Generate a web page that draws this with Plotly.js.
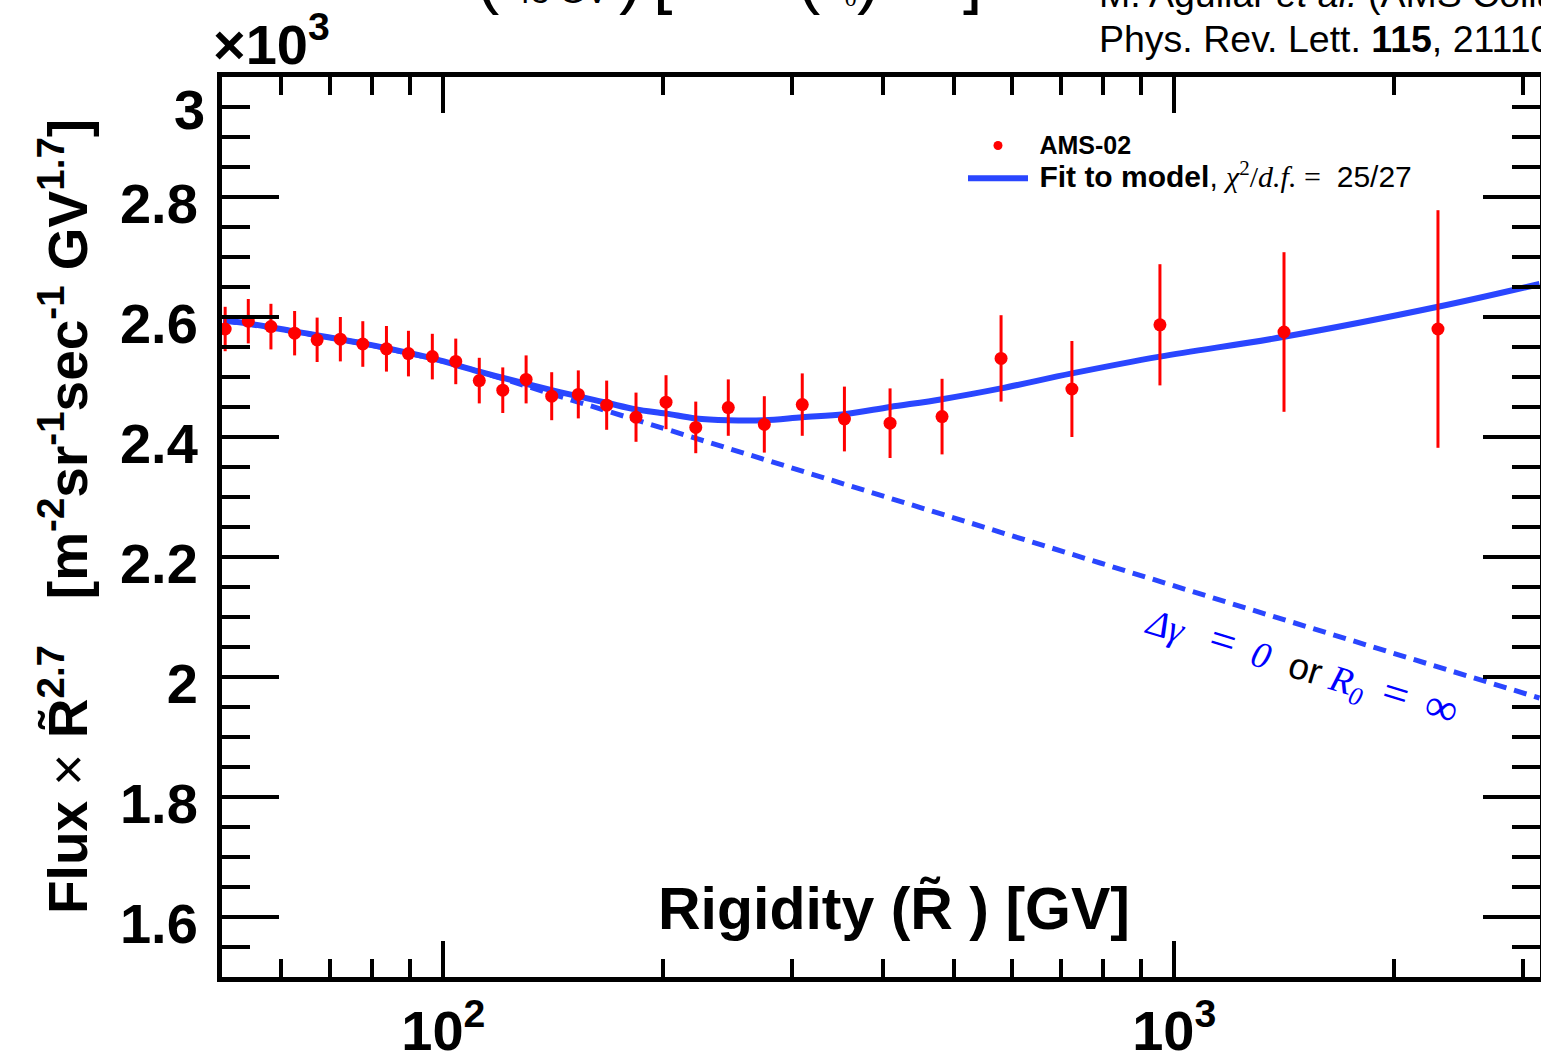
<!DOCTYPE html>
<html><head><meta charset="utf-8">
<script src="https://cdn.plot.ly/plotly-3.0.1.min.js"></script>
<style>html,body{margin:0;padding:0;background:#fff;} #chart{width:1541px;height:1057px;}</style>
</head><body><div id="chart"></div>
<script>
// AMS-02 helium: Flux x R^2.7 (x10^3) vs rigidity (GV)
const rigidity = [50.3, 54.1, 58.1, 62.6, 67.2, 72.3, 77.6, 83.6, 89.6, 96.6, 104, 112, 120.6, 129.8, 140.7, 153, 167.3, 183.5, 201.7, 221.5, 245.4, 274.9, 309.8, 353.8, 408.5, 481.2, 579.5, 724.4, 955.9, 1413, 2295];
const fluxR27 = [2.580, 2.593, 2.584, 2.573, 2.562, 2.563, 2.555, 2.547, 2.539, 2.534, 2.526, 2.494, 2.478, 2.496, 2.468, 2.471, 2.453, 2.433, 2.458, 2.416, 2.449, 2.421, 2.454, 2.430, 2.423, 2.434, 2.531, 2.480, 2.587, 2.575, 2.580];
const fluxErr = [0.037, 0.037, 0.038, 0.037, 0.037, 0.037, 0.038, 0.038, 0.038, 0.038, 0.038, 0.038, 0.038, 0.040, 0.040, 0.040, 0.041, 0.041, 0.045, 0.043, 0.047, 0.047, 0.052, 0.054, 0.058, 0.063, 0.072, 0.080, 0.101, 0.133, 0.198];

// Fit to model (solid)
const fitR = [50, 54.1, 62.5, 77.6, 96.6, 112, 140.7, 167.3, 183.5, 201.7, 221.5, 245.3, 274.6, 309.7, 353.5, 408.5, 481.2, 579.5, 724.4, 955.9, 1413, 2295, 3160];
const fitV = [2.594, 2.589, 2.576, 2.556, 2.531, 2.509, 2.478, 2.457, 2.446, 2.439, 2.431, 2.428, 2.428, 2.433, 2.438, 2.450, 2.463, 2.481, 2.506, 2.534, 2.567, 2.617, 2.655];

// Delta gamma = 0 (dashed)
const noBreakR = [50, 62.5, 77.6, 96.6, 112, 140.7, 167.3, 183.5, 221.5, 274.6, 352, 500, 792, 1200, 2000, 3160];
const noBreakV = [2.594, 2.576, 2.556, 2.531, 2.509, 2.472, 2.443, 2.428, 2.398, 2.363, 2.323, 2.266, 2.190, 2.122, 2.039, 1.965];

const xTickVals = [100, 1000];
const xTickText = ['10<sup>2</sup>', '10<sup>3</sup>'];
const xMinorVals = [60, 70, 80, 90, 200, 300, 400, 500, 600, 700, 800, 900, 2000, 3000];
const yTickVals = [1.6, 1.8, 2.0, 2.2, 2.4, 2.6, 2.8];
const yTickText = ['1.6', '1.8', '2', '2.2', '2.4', '2.6', '2.8'];

const SANS = 'Liberation Sans, Arial, Helvetica, sans-serif';
const SERIF = 'Liberation Serif, Times New Roman, serif';
const BLUE = '#2a46ff';
const RED = '#ff0000';

// plot area geometry (px)
const L = 222, T = 77, W = 1318, H = 900;
const px = x => (x - L) / W;
const py = y => (T + H - y) / H;

const traces = [
  {x: noBreakR, y: noBreakV, type: 'scatter', mode: 'lines', showlegend: false,
   line: {color: BLUE, width: 5, dash: '13px,8px'}, hoverinfo: 'skip'},
  {x: fitR, y: fitV, type: 'scatter', mode: 'lines', name:
   '&nbsp;<span style="font-size:30px"><b>Fit to model</b>, <span style="font-family:Liberation Serif"><i>χ</i><sup>2</sup>/<i>d.f.</i> = </span> 25/27</span>',
   line: {color: BLUE, width: 6, shape: 'spline'}, legendrank: 2},
  {x: rigidity, y: fluxR27, type: 'scatter', mode: 'markers', showlegend: false,
   marker: {color: RED, size: 13},
   error_y: {type: 'data', array: fluxErr, visible: true, color: RED, thickness: 3, width: 0}},
  {x: [null], y: [null], type: 'scatter', mode: 'markers', name: '&nbsp;<span style="font-size:25px"><b>AMS-02</b></span>',
   marker: {color: RED, size: 9}, legendrank: 1}
];

const axisCommon = {
  showline: true, linewidth: 5, linecolor: 'black', mirror: 'allticks',
  ticks: 'inside', tickwidth: 4, tickcolor: 'black', showgrid: false, zeroline: false,
  tickfont: {family: SANS, size: 56, color: 'black', weight: 'bold'}
};

const MATH = 'font-family:Liberation Serif;color:#0000ff';
const SP = '&nbsp;';

const layout = {
  width: 1541, height: 1057,
  margin: {l: L, r: 1541 - L - W, t: T, b: 1057 - T - H, pad: 0},
  paper_bgcolor: 'white', plot_bgcolor: 'white',
  showlegend: true,
  legend: {x: px(963), y: py(124), xanchor: 'left', yanchor: 'top', bgcolor: 'rgba(0,0,0,0)',
           font: {family: SANS, size: 23, color: 'black'}, itemwidth: 60, tracegroupgap: 0},
  xaxis: Object.assign({}, axisCommon, {
    type: 'log', range: [Math.log10(49.8), Math.log10(3165)],
    tickmode: 'array', tickvals: xTickVals, ticktext: xTickText, ticklen: 36,
    ticklabelstandoff: 1,
    minor: {tickmode: 'array', tickvals: xMinorVals, ticks: 'inside', ticklen: 18, tickwidth: 4, tickcolor: 'black', showgrid: false}
  }),
  yaxis: Object.assign({}, axisCommon, {
    range: [1.5, 3.0],
    tickmode: 'array', tickvals: yTickVals, ticktext: yTickText, ticklen: 57,
    ticklabelstandoff: 8, ticklabelshift: 6,
    minor: {tickmode: 'linear', tick0: 1.5, dtick: 0.05, ticks: 'inside', ticklen: 28, tickwidth: 4, tickcolor: 'black', showgrid: false}
  }),
  annotations: [
    {xref: 'paper', yref: 'paper', x: px(207), y: py(109), xanchor: 'right', yanchor: 'middle', showarrow: false,
     text: '<b>3</b>', font: {family: SANS, size: 56, color: 'black'}},
    {xref: 'paper', yref: 'paper', x: px(211), y: py(40), xanchor: 'left', yanchor: 'middle', showarrow: false,
     text: '<b>×10<sup>3</sup></b>', font: {family: SANS, size: 56, color: 'black'}},
    {xref: 'paper', yref: 'paper', x: px(894), y: py(909), xanchor: 'center', yanchor: 'middle', showarrow: false,
     text: '<b>Rigidity (R̃ ) [GV]</b>', font: {family: SANS, size: 59, color: 'black'}},
    {xref: 'paper', yref: 'paper', x: px(64), y: py(517), xanchor: 'center', yanchor: 'middle', showarrow: false, textangle: -90,
     text: '<b>Flux</b> × <b>R̃<sup>2.7</sup></b>&nbsp;&nbsp;&nbsp;<b>[m<sup>-2</sup>sr<sup>-1</sup>sec<sup>-1</sup> GV<sup>1.7</sup>]</b>',
     font: {family: SANS, size: 55, color: 'black'}},
    {xref: 'paper', yref: 'paper', x: px(1302), y: py(666), xanchor: 'center', yanchor: 'middle', showarrow: false, textangle: 17,
     text: '<span style="' + MATH + '"><i>Δγ</i>' + SP + SP + SP + '<span style="font-size:46px">=</span>' + SP + SP + '<i>0</i></span>' + SP + SP + 'or' + SP + '<span style="' + MATH + '"><i>R</i><sub><i>0</i></sub>' + SP + SP + '<span style="font-size:46px">=</span>' + SP + SP + '<span style="font-size:46px">∞</span></span>',
     font: {family: SANS, size: 37, color: 'black'}},
    {xref: 'paper', yref: 'paper', x: px(1097), y: py(39), xanchor: 'left', yanchor: 'middle', showarrow: false,
     text: 'Phys. Rev. Lett. <b>115</b>, 211101 (2015)', font: {family: SANS, size: 37.5, color: 'black'}},
    {xref: 'paper', yref: 'paper', x: px(1097), y: py(-6), xanchor: 'left', yanchor: 'middle', showarrow: false,
     text: 'M. Aguilar <i>et al.</i> (AMS Collaboration)', font: {family: SANS, size: 37.5, color: 'black'}},
    // cut-off model formula on top
    {xref: 'paper', yref: 'paper', x: px(487), y: py(-24), xanchor: 'center', yanchor: 'middle', showarrow: false,
     text: '(', font: {family: SANS, size: 70, color: 'black'}},
    {xref: 'paper', yref: 'paper', x: px(560), y: py(-9), xanchor: 'center', yanchor: 'middle', showarrow: false,
     text: '45 GV', font: {family: SANS, size: 34, color: 'black'}},
    {xref: 'paper', yref: 'paper', x: px(630), y: py(-24), xanchor: 'center', yanchor: 'middle', showarrow: false,
     text: ')', font: {family: SANS, size: 70, color: 'black'}},
    {xref: 'paper', yref: 'paper', x: px(662), y: py(-24), xanchor: 'center', yanchor: 'middle', showarrow: false,
     text: '[', font: {family: SANS, size: 70, color: 'black'}},
    {xref: 'paper', yref: 'paper', x: px(808), y: py(-24), xanchor: 'center', yanchor: 'middle', showarrow: false,
     text: '(', font: {family: SANS, size: 70, color: 'black'}},
    {xref: 'paper', yref: 'paper', x: px(840), y: py(-10), xanchor: 'center', yanchor: 'middle', showarrow: false,
     text: '<i>R</i><sub>0</sub>', font: {family: SERIF, size: 34, color: 'black'}},
    {xref: 'paper', yref: 'paper', x: px(868), y: py(-24), xanchor: 'center', yanchor: 'middle', showarrow: false,
     text: ')', font: {family: SANS, size: 70, color: 'black'}},
    {xref: 'paper', yref: 'paper', x: px(972), y: py(-24), xanchor: 'center', yanchor: 'middle', showarrow: false,
     text: ']', font: {family: SANS, size: 70, color: 'black'}}
  ]
};

Plotly.newPlot('chart', traces, layout, {staticPlot: true, displayModeBar: false});
</script>
</body></html>
